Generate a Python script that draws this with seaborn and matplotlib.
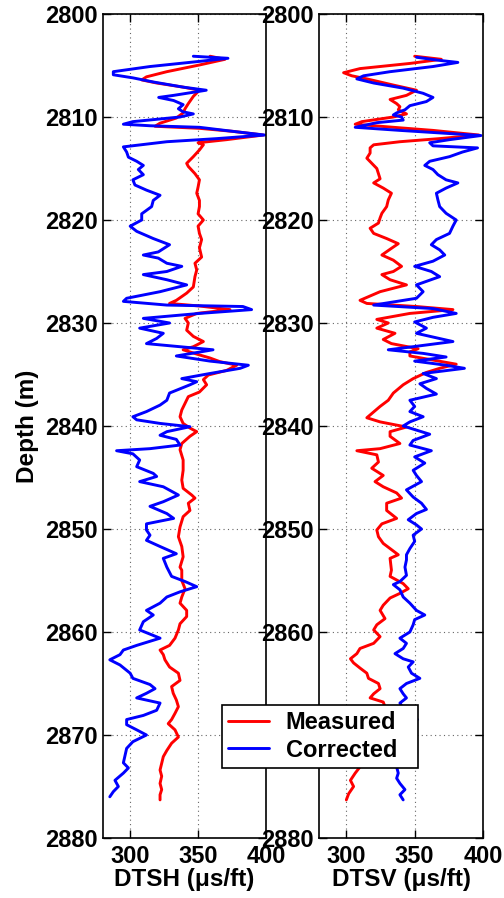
import matplotlib
matplotlib.use("Agg")
import matplotlib.pyplot as plt
import seaborn as sns

# ---- DTSH (left track) ----
dtsh_meas_depth = [2804.1, 2804.4, 2804.95, 2805.6, 2806.1, 2806.4, 2806.7, 2807.1, 2807.4, 2808.0,
                   2808.7, 2809.2, 2809.6, 2810.1, 2810.6, 2810.9, 2811.1, 2811.4, 2811.75, 2812.2,
                   2812.5, 2812.7, 2813.2, 2813.85, 2814.5, 2814.8, 2815.5, 2816.1, 2816.8, 2817.4,
                   2818.1, 2818.7, 2819.4, 2820.0, 2820.6, 2821.3, 2821.9, 2822.7, 2823.6, 2824.2,
                   2824.85, 2825.5, 2826.5, 2827.1, 2827.8, 2828.1, 2828.35, 2828.7, 2829.07, 2829.55,
                   2830.0, 2830.7, 2831.3, 2831.8, 2832.3, 2832.6, 2833.1, 2833.4, 2833.75, 2834.1,
                   2834.6, 2835.05, 2835.5, 2836.0, 2836.7, 2837.15, 2837.8, 2838.45, 2839.1, 2839.75,
                   2840.2, 2840.55, 2841.0, 2841.7, 2842.3, 2843.3, 2844.3, 2845.25, 2846.05, 2846.7,
                   2847.0, 2847.5, 2848.2, 2848.8, 2849.8, 2850.75, 2851.7, 2852.7, 2853.7, 2854.0,
                   2855.0, 2855.8, 2856.6, 2857.2, 2857.9, 2858.5, 2859.2, 2859.8, 2860.6, 2861.3,
                   2861.75, 2862.2, 2862.7, 2863.4, 2864.0, 2864.7, 2865.3, 2865.95, 2866.6, 2867.25,
                   2867.9, 2868.5, 2868.9, 2869.5, 2870.2, 2870.8, 2871.5, 2872.1, 2872.75, 2873.4,
                   2874.0, 2874.7, 2875.3, 2875.8, 2876.3]
dtsh_meas = [358.8, 369.8, 351, 327, 312, 308.5, 319.5, 339, 351, 346.5,
             342.8, 340.4, 339, 334, 322, 318.3, 351, 376, 398, 371,
             350, 353.9, 351, 346.5, 341.6, 342.8, 347.7, 351, 350, 349,
             351, 351, 350, 353.9, 350, 351, 352.6, 351, 352.6, 347.7,
             349, 347.7, 346.5, 341.6, 334, 329, 351, 373.5, 349, 340.4,
             342.8, 341.6, 346.5, 353.9, 346.5, 339, 351, 358.8, 366, 378.4,
             371, 357.5, 353.9, 356.3, 351, 342.8, 340.4, 338, 336.7, 339,
             344, 349, 344, 338, 336.7, 339, 339, 338, 339, 345.3,
             347.7, 342.8, 344, 339, 336.7, 335.5, 338, 339, 336.7, 338,
             338, 340.4, 338, 336.7, 341.6, 341.6, 336.7, 335.5, 333, 329,
             322, 324.4, 325.6, 329, 335.5, 336.7, 330.5, 331.7, 334, 335.5,
             333, 330.5, 328, 333, 335.5, 330.5, 327, 324.4, 323.2, 322,
             323.2, 322, 323.2, 322, 322]

dtsh_corr_depth = [2804.1, 2804.3, 2804.6, 2805.1, 2805.6, 2805.9, 2806.2, 2806.6, 2807.1, 2807.4,
                   2807.9, 2808.1, 2808.4, 2808.8, 2809.2, 2809.5, 2809.7, 2810.0, 2810.45, 2810.7,
                   2810.85, 2811.0, 2811.4, 2811.75, 2812.1, 2812.4, 2812.9, 2813.4, 2813.9, 2814.3,
                   2814.7, 2815.1, 2815.6, 2816.1, 2816.6, 2817.1, 2817.6, 2818.1, 2818.7, 2819.4,
                   2820.0, 2820.6, 2821.1, 2821.8, 2822.4, 2823.1, 2823.4, 2823.7, 2824.2, 2824.5,
                   2825.0, 2825.3, 2825.8, 2826.3, 2826.96, 2827.6, 2827.9, 2828.26, 2828.4, 2828.7,
                   2829.07, 2829.55, 2830.0, 2830.5, 2831.0, 2831.5, 2832.0, 2832.6, 2833.2, 2833.7,
                   2834.1, 2834.4, 2834.9, 2835.4, 2835.7, 2836.0, 2836.8, 2837.5, 2837.97, 2838.6,
                   2839.1, 2839.4, 2839.75, 2840.07, 2840.55, 2840.9, 2841.3, 2841.85, 2842.2, 2842.4,
                   2842.7, 2843.3, 2843.95, 2844.6, 2844.9, 2845.4, 2845.9, 2846.7, 2847.35, 2847.8,
                   2848.5, 2848.97, 2849.5, 2850.1, 2850.6, 2851.1, 2851.7, 2852.4, 2852.85, 2853.7,
                   2854.6, 2855.1, 2855.6, 2856.1, 2856.6, 2857.2, 2857.9, 2858.35, 2859.0, 2859.8,
                   2860.6, 2861.3, 2861.75, 2862.2, 2862.7, 2863.2, 2864.0, 2864.5, 2865.1, 2865.5,
                   2865.95, 2866.4, 2866.9, 2867.6, 2868.1, 2868.5, 2869.0, 2869.5, 2870.0, 2870.65,
                   2871.3, 2872.1, 2872.7, 2873.2, 2873.7, 2874.4, 2875.0, 2875.5, 2876.0]
dtsh_corr = [346.5, 372, 351, 314.6, 287.6, 287.6, 302, 317, 339, 356,
             332, 321, 332, 339, 335.5, 339, 346.5, 336.7, 302, 295,
             314.6, 351, 376, 399, 363.7, 327, 295, 297.4, 298.7, 304.8,
             309.7, 306, 309.7, 302, 303.5, 312, 322, 317, 315.8, 308.5,
             308.5, 300, 304.8, 317, 329, 320.7, 309.7, 320.7, 327, 338,
             327, 309.7, 327, 341.6, 322, 297.4, 295, 327, 383, 389.4,
             351, 309.7, 329, 307, 324.4, 319.5, 312, 361, 334, 358.8,
             387, 381, 358.8, 338, 349, 344, 329, 327, 322, 312,
             302, 304.8, 322, 344, 327, 322, 334, 336.7, 314.6, 290,
             302, 307, 304.8, 317, 319.5, 307, 324.4, 335.5, 324.4, 314.6,
             327, 332, 312, 312, 314.6, 312, 322, 334, 324.4, 327,
             330.5, 340.4, 349, 336.7, 327, 322, 312, 317, 309.7, 307,
             322, 304.8, 295, 292.5, 285, 292.5, 300, 302, 314.6, 318.3,
             312, 304.8, 322, 319.5, 309.7, 297.4, 297.4, 304.8, 312, 302,
             297.4, 296, 295, 298.7, 295, 288.8, 291.3, 287.6, 285]

# ---- DTSV (right track) ----
dtsv_meas_depth = [2804.1, 2804.4, 2804.8, 2805.3, 2805.7, 2806.0, 2806.3, 2806.9, 2807.4, 2807.9,
                   2808.3, 2808.7, 2809.0, 2809.3, 2809.7, 2810.0, 2810.45, 2810.7, 2811.0, 2811.3,
                   2811.75, 2812.1, 2812.4, 2812.7, 2813.0, 2813.5, 2814.0, 2814.5, 2815.0, 2815.5,
                   2816.0, 2816.4, 2816.9, 2817.4, 2818.05, 2818.7, 2819.35, 2819.8, 2820.3, 2820.8,
                   2821.3, 2821.8, 2822.3, 2822.75, 2823.4, 2823.9, 2824.5, 2825.0, 2825.3, 2825.8,
                   2826.3, 2826.96, 2827.8, 2828.1, 2828.4, 2828.7, 2829.07, 2829.65, 2830.0, 2830.5,
                   2831.0, 2831.6, 2832.0, 2832.5, 2832.8, 2833.2, 2833.6, 2834.0, 2834.4, 2834.8,
                   2835.4, 2836.0, 2836.8, 2837.5, 2838.1, 2838.8, 2839.2, 2839.6, 2840.1, 2840.55,
                   2841.0, 2841.7, 2842.2, 2842.4, 2842.8, 2843.5, 2844.1, 2844.8, 2845.4, 2845.9,
                   2846.5, 2847.0, 2847.5, 2848.2, 2848.97, 2849.5, 2850.1, 2850.75, 2851.4, 2852.0,
                   2852.5, 2852.85, 2854.0, 2854.6, 2855.3, 2855.8, 2856.25, 2856.7, 2857.4, 2857.9,
                   2858.7, 2859.3, 2859.8, 2860.45, 2861.1, 2861.6, 2862.1, 2862.6, 2863.0, 2863.5,
                   2864.0, 2864.5, 2865.0, 2865.5, 2866.0, 2866.4, 2866.8, 2867.5, 2868.3, 2869.0,
                   2870.0, 2871.0, 2872.0, 2873.1, 2873.7, 2874.4, 2875.0, 2875.7, 2876.3]
dtsv_meas = [350, 369.5, 346.5, 310, 298, 304, 315, 334.4, 351.3, 344,
             332, 336.8, 339.2, 338, 344, 334.4, 311.4, 306.5, 334.4, 363.4,
             397, 368, 339.2, 320, 317.4, 317.4, 315, 318.6, 322.3, 323.5,
             324.7, 320, 327, 333, 330.7, 329.5, 326, 324.7, 323.5, 317.4,
             320, 329.5, 338, 333, 326, 334.4, 340.4, 334.4, 326, 332,
             344, 324.7, 310, 315, 351.3, 378, 346.5, 322.3, 330.7, 322.3,
             335.6, 327, 333, 352.5, 346.5, 346.5, 363.4, 380.4, 368.3, 358.6,
             348.9, 341.6, 334.4, 330.7, 324.7, 318.6, 315, 324.7, 344, 332,
             332, 339.2, 324.7, 307.7, 322.3, 323.5, 318.6, 327, 321, 327,
             336.8, 340.4, 329.5, 329.5, 336.8, 326, 322.3, 323.5, 327, 333,
             338, 332, 333, 332, 341.6, 345.3, 339.2, 332, 327, 324.7,
             328.3, 322.3, 320, 324.7, 320, 310, 307.7, 303, 305.3, 310,
             315, 316.2, 323.5, 324.7, 320, 317.4, 327, 329, 324, 321,
             318, 315, 313, 310, 306.5, 303, 305.3, 301.7, 300]

dtsv_corr_depth = [2804.2, 2804.5, 2804.7, 2805.1, 2805.6, 2806.0, 2806.3, 2806.7, 2807.2, 2807.7,
                   2808.1, 2808.5, 2808.9, 2809.3, 2809.6, 2809.8, 2810.0, 2810.3, 2810.55, 2811.0,
                   2811.3, 2811.6, 2811.8, 2812.2, 2812.5, 2812.8, 2813.0, 2813.4, 2813.85, 2814.3,
                   2814.7, 2815.1, 2815.6, 2816.1, 2816.4, 2816.9, 2817.4, 2818.05, 2818.7, 2819.35,
                   2820.0, 2820.6, 2821.3, 2821.9, 2822.4, 2822.9, 2823.4, 2824.0, 2824.5, 2825.0,
                   2825.5, 2826.3, 2826.96, 2827.6, 2828.26, 2828.6, 2829.07, 2829.45, 2829.9, 2830.5,
                   2831.0, 2831.8, 2832.3, 2832.6, 2832.95, 2833.3, 2833.7, 2834.1, 2834.4, 2834.9,
                   2835.4, 2835.9, 2836.35, 2836.9, 2837.5, 2838.1, 2838.6, 2839.1, 2839.6, 2840.0,
                   2840.4, 2840.8, 2841.4, 2841.85, 2842.4, 2843.0, 2843.6, 2844.3, 2844.8, 2845.4,
                   2846.2, 2846.9, 2847.5, 2848.1, 2848.5, 2849.1, 2849.6, 2850.0, 2850.6, 2851.2,
                   2851.9, 2852.5, 2853.0, 2853.7, 2854.5, 2855.1, 2855.4, 2855.9, 2856.6, 2857.2,
                   2857.9, 2858.35, 2858.8, 2859.3, 2860.0, 2860.6, 2861.1, 2861.6, 2862.1, 2862.6,
                   2862.9, 2863.4, 2864.0, 2864.5, 2865.0, 2865.5, 2866.0, 2866.4, 2866.9, 2867.5,
                   2868.0, 2868.5, 2869.0, 2870.0, 2871.0, 2872.0, 2873.1, 2873.7, 2874.2, 2874.7,
                   2875.3, 2875.8, 2876.3]
dtsv_corr = [351.3, 368, 381.6, 363.4, 332, 312.6, 307.7, 320, 341.6, 356.2,
             363.4, 358.6, 346.5, 342.9, 336.8, 334.4, 340.4, 341.6, 322.3, 306.5,
             339.2, 375.5, 398.5, 375.5, 361, 363.4, 396, 385, 375.5, 361,
             357.4, 363.4, 367, 373, 381.6, 373, 365.9, 367, 368.3, 373,
             380.4, 378, 375.5, 365.9, 362.2, 368.3, 372, 363.4, 350, 362.2,
             368.3, 351.3, 356.2, 351.3, 320, 363.4, 380.4, 363.4, 350, 358.6,
             351.3, 378, 348.9, 330.7, 356.2, 373, 350, 373, 386.4, 356.2,
             365.9, 353.8, 358.6, 365.9, 346.5, 350, 346.5, 356.2, 346.5, 341.6,
             351.3, 361, 348.9, 346.5, 362.2, 350, 357.4, 348.9, 351.3, 355,
             344, 348.9, 355, 358.6, 351.3, 345.3, 351.3, 355, 348.9, 350,
             346.5, 344, 344, 342.9, 344, 339.2, 334.4, 339.2, 341.6, 346.5,
             351.3, 357.4, 350, 348.9, 346.5, 339.2, 344, 341.6, 335.6, 341.6,
             348.9, 345.3, 347.7, 353.8, 344, 339.2, 341.6, 344, 339.2, 342,
             345, 352, 345, 340, 338, 340, 336.8, 338, 336.8, 339.2,
             342.9, 339.2, 341.6]

depth_ticks = [2800, 2810, 2820, 2830, 2840, 2850, 2860, 2870, 2880]
slow_ticks = [300, 350, 400]
series_labels = ["Measured", "Corrected"]
track_labels = ["DTSH (\u03bcs/ft)", "DTSV (\u03bcs/ft)"]

sns.set_theme(style="ticks")
plt.rcParams["font.family"] = ["Liberation Sans", "DejaVu Sans"]
plt.rcParams["font.weight"] = "bold"
plt.rcParams["axes.labelweight"] = "bold"
plt.rcParams["text.color"] = "black"
plt.rcParams["axes.labelcolor"] = "black"

W, H = 504, 898
fig = plt.figure(figsize=(W / 100, H / 100), dpi=100)
ax1 = fig.add_axes([103 / W, 1 - 838 / H, 163 / W, 824 / H])
ax2 = fig.add_axes([319 / W, 1 - 838 / H, 164 / W, 824 / H])

tracks = [
    (ax1, dtsh_meas_depth, dtsh_meas, dtsh_corr_depth, dtsh_corr),
    (ax2, dtsv_meas_depth, dtsv_meas, dtsv_corr_depth, dtsv_corr),
]
for (ax, md, mv, cd, cv), xlabel in zip(tracks, track_labels):
    sns.lineplot(x=mv, y=md, ax=ax, color="#ff0000", lw=2.1, sort=False,
                 estimator=None, orient="y", label=series_labels[0], legend=False)
    sns.lineplot(x=cv, y=cd, ax=ax, color="#0000ff", lw=2.1, sort=False,
                 estimator=None, orient="y", label=series_labels[1], legend=False)
    ax.set_xlim(280, 400)
    ax.set_ylim(2880, 2800)
    ax.set_xticks(slow_ticks)
    ax.set_yticks(depth_ticks)
    ax.grid(True, linestyle=(0, (1, 3)), color="0.4", lw=0.8)
    ax.tick_params(direction="in", top=True, right=True, length=6, width=1,
                   labelsize=17, colors="black")
    ax.tick_params(axis="y", pad=4)
    ax.tick_params(axis="x", pad=5)
    for s in ax.spines.values():
        s.set_linewidth(1.2)
        s.set_color("black")
    ax.set_xlabel(xlabel, fontsize=17.5, labelpad=0)
    ax.set_ylabel("")

ax1.set_ylabel("Depth (m)", fontsize=17.5, labelpad=4)

handles, labels = ax1.get_legend_handles_labels()
leg = fig.legend(handles, labels, loc="upper left",
                 bbox_to_anchor=(222 / W, 1 - 767 / H, 196 / W, 62 / H), mode="expand",
                 fontsize=17, frameon=True, fancybox=False, borderpad=0.25,
                 handlelength=1.75, handletextpad=0.7, labelspacing=0.2,
                 borderaxespad=0)
leg.get_frame().set_edgecolor("black")
leg.get_frame().set_linewidth(1.2)
leg.get_frame().set_alpha(1)

fig.savefig("out.png", dpi=100)
